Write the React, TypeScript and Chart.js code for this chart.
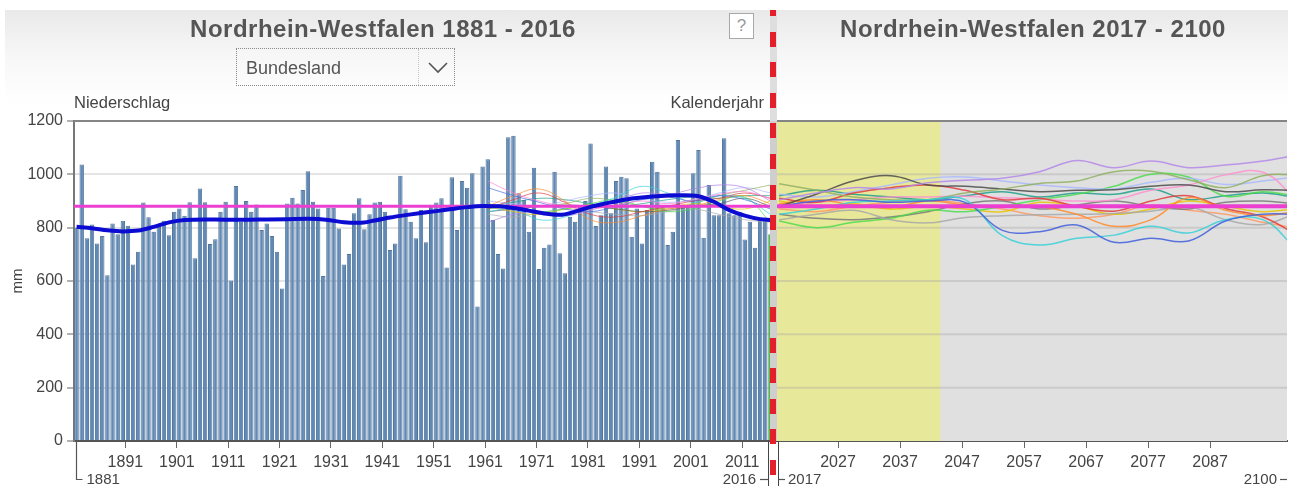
import React, { useEffect, useRef } from 'react';
import { Chart, registerables } from 'chart.js';

Chart.register(...registerables);

const FONT = '"Liberation Sans", Arial, Helvetica, sans-serif';

// ---------- observed data 1881-2016 ----------
const firstYear = 1881;
const lastYear = 2016;
const precipitation = [
  800, 1037, 760, 812, 741, 769, 622, 816, 775, 826,
  807, 662, 710, 894, 839, 785, 810, 826, 772, 860,
  872, 845, 895, 685, 947, 895, 739, 757, 860, 897,
  602, 956, 822, 900, 860, 887, 791, 816, 769, 710,
  572, 891, 912, 891, 941, 1012, 897, 872, 619, 875,
  875, 797, 662, 701, 854, 910, 794, 850, 894, 897,
  860, 716, 741, 995, 869, 822, 760, 866, 745, 885,
  894, 910, 651, 989, 791, 975, 950, 1004, 504, 1029,
  1057, 829, 701, 647, 1139, 1145, 929, 904, 785, 1025,
  645, 725, 737, 1010, 704, 629, 841, 822, 885, 900,
  1116, 806, 847, 1029, 854, 975, 991, 985, 766, 872,
  741, 866, 1047, 1010, 885, 735, 785, 1129, 885, 885,
  1004, 1091, 762, 960, 847, 847, 1135, 854, 847, 860,
  756, 822, 725, 829, 832, 775,
];
const years = precipitation.map((_, i) => firstYear + i);

// smoothed trend (blue)
const smoothYears = [1881, 1884, 1887, 1890, 1893, 1896, 1899, 1902, 1906, 1910, 1914, 1918, 1922, 1926, 1930, 1933, 1936, 1939, 1942, 1945, 1948, 1951, 1954, 1957, 1960, 1963, 1966, 1969, 1972, 1975, 1978, 1981, 1984, 1987, 1990, 1993, 1996, 1999, 2002, 2005, 2008, 2011, 2014, 2016];
const smoothValues = [803, 798, 790, 786, 789, 803, 820, 829, 831, 830, 830, 831, 832, 833, 829, 820, 818, 827, 838, 847, 855, 862, 870, 877, 881, 880, 874, 864, 853, 848, 860, 878, 891, 903, 911, 917, 921, 922, 918, 897, 866, 845, 832, 829];

// reference mean (magenta)
const referenceMean = 880;

// ---------- model runs ----------
const hindYears = [1961, 1966, 1971, 1976, 1981, 1986, 1991, 1996, 2001, 2006, 2011, 2016];
const hindPink = [975, 930, 900, 880, 870, 885, 900, 890, 905, 925, 935, 910];
const hindBlue = [950, 920, 895, 870, 860, 880, 905, 915, 900, 920, 905, 870];
const hindPurple = [820, 850, 860, 845, 865, 900, 930, 925, 945, 960, 950, 900];
const hindOrange = [880, 920, 945, 900, 830, 820, 845, 870, 880, 905, 920, 890];
const hindRed = [870, 905, 930, 895, 850, 840, 860, 880, 900, 910, 930, 910];
const hindCyan = [860, 870, 830, 840, 880, 915, 955, 930, 895, 920, 910, 850];
const hindLime = [870, 880, 860, 870, 890, 905, 880, 860, 870, 900, 915, 820];
const hindOlive = [890, 875, 880, 890, 910, 900, 880, 870, 890, 920, 940, 960];
const hindDark = [860, 870, 880, 885, 880, 870, 860, 865, 880, 890, 910, 880];
const hindYellow = [880, 860, 850, 870, 885, 870, 860, 875, 890, 880, 870, 900];
const hindLavender = [900, 890, 880, 900, 920, 930, 910, 895, 905, 930, 950, 930];
const hindGray = [850, 840, 855, 870, 860, 850, 845, 860, 870, 850, 830, 820];
const hindTeal = [880, 895, 910, 905, 890, 880, 890, 905, 915, 910, 920, 920];

const projYears = [2017, 2023, 2029, 2035, 2041, 2047, 2053, 2059, 2065, 2071, 2077, 2083, 2089, 2095, 2100];
const projPurple = [905, 930, 950, 945, 968, 978, 985, 1010, 1052, 1025, 1050, 1025, 1035, 1050, 1070];
const projBlue = [880, 900, 905, 895, 900, 895, 790, 785, 810, 745, 760, 750, 825, 850, 850];
const projCyan = [850, 870, 895, 900, 905, 905, 770, 735, 760, 772, 805, 780, 830, 830, 730];
const projOlive = [965, 940, 915, 905, 905, 930, 945, 966, 975, 1010, 1012, 980, 950, 995, 1000];
const projDark = [880, 925, 975, 995, 960, 955, 945, 935, 940, 942, 955, 960, 935, 942, 940];
const projOrange = [890, 905, 885, 875, 900, 885, 880, 878, 850, 805, 830, 912, 865, 845, 860];
const projRed = [910, 895, 930, 950, 960, 940, 905, 910, 880, 862, 900, 920, 872, 840, 780];
const projPink = [885, 895, 905, 915, 915, 918, 912, 908, 900, 905, 940, 960, 998, 1008, 915];
const projLavender = [925, 915, 935, 960, 985, 990, 975, 960, 950, 945, 970, 985, 962, 975, 990];
const projGray = [830, 850, 865, 830, 818, 838, 845, 848, 850, 853, 862, 878, 830, 812, 850];
const projLime = [825, 800, 820, 835, 865, 860, 880, 905, 925, 955, 1000, 990, 918, 935, 920];
const projYellow = [900, 880, 890, 870, 880, 870, 860, 895, 880, 850, 870, 900, 880, 860, 870];
const projTeal = [920, 940, 925, 915, 905, 920, 935, 915, 930, 925, 945, 905, 920, 930, 915];
const projDim = [850, 835, 830, 840, 860, 890, 900, 870, 885, 900, 880, 870, 895, 900, 890];
const projSalmon = [870, 860, 880, 895, 905, 890, 870, 845, 835, 850, 885, 865, 850, 820, 800];

const hindModels = [
  { values: hindPink, color: '#ff7fd0' },
  { values: hindBlue, color: '#4a6be0' },
  { values: hindPurple, color: '#b07fe6' },
  { values: hindOrange, color: '#ff8a2a' },
  { values: hindRed, color: '#e23b3b' },
  { values: hindCyan, color: '#35cfd6' },
  { values: hindLime, color: '#4bdb4b' },
  { values: hindOlive, color: '#8fb060' },
  { values: hindDark, color: '#555555' },
  { values: hindYellow, color: '#e8c400' },
  { values: hindLavender, color: '#a9b8ff' },
  { values: hindGray, color: '#aaaaaa' },
  { values: hindTeal, color: '#1f9e8a' },
];

const projModels = [
  { values: projPurple, color: '#b488e8' },
  { values: projBlue, color: '#3f5fdc' },
  { values: projCyan, color: '#38d0d8' },
  { values: projOlive, color: '#8fb060' },
  { values: projDark, color: '#4a4a4a' },
  { values: projOrange, color: '#ff8a2a' },
  { values: projRed, color: '#e23b3b' },
  { values: projPink, color: '#ff8fd0' },
  { values: projLavender, color: '#a9b8ff' },
  { values: projGray, color: '#a8a8a8' },
  { values: projLime, color: '#4bdb4b' },
  { values: projYellow, color: '#e8c400' },
  { values: projTeal, color: '#1f9e8a' },
  { values: projDim, color: '#777777' },
  { values: projSalmon, color: '#ff9966' },
];

const yTicks = [0, 200, 400, 600, 800, 1000, 1200];
const leftTickYears = [1891, 1901, 1911, 1921, 1931, 1941, 1951, 1961, 1971, 1981, 1991, 2001, 2011];
const rightTickYears = [2027, 2037, 2047, 2057, 2067, 2077, 2087];
const projFirst = 2017;
const projLast = 2100;
const yellowEndYear = 2043;

const leftDecor = {
  id: 'leftDecor',
  afterDraw(chart: any) {
    const { ctx, chartArea: a, scales } = chart;
    const x = scales.x;
    ctx.save();
    ctx.strokeStyle = '#858585';
    ctx.lineWidth = 2;
    ctx.beginPath();
    ctx.moveTo(a.left, a.top);
    ctx.lineTo(a.right, a.top);
    ctx.stroke();
    const x0 = Math.round(x.getPixelForValue(firstYear - 0.5)) + 2.5;
    ctx.strokeStyle = '#555';
    ctx.lineWidth = 1.2;
    ctx.beginPath();
    ctx.moveTo(x0, a.bottom);
    ctx.lineTo(x0, 479.5);
    ctx.lineTo(x0 + 6, 479.5);
    ctx.stroke();
    ctx.fillStyle = '#444';
    ctx.font = '15px ' + FONT;
    ctx.textBaseline = 'middle';
    ctx.textAlign = 'left';
    ctx.fillText(String(firstYear), x0 + 10, 480);
    const xe = x.getPixelForValue(lastYear + 0.5);
    ctx.textAlign = 'right';
    ctx.fillText(String(lastYear), xe - 17, 480);
    ctx.beginPath();
    ctx.moveTo(xe - 13, 479.5);
    ctx.lineTo(xe - 5, 479.5);
    ctx.stroke();
    ctx.restore();
  },
};

const rightDecor = {
  id: 'rightDecor',
  beforeDatasetsDraw(chart: any) {
    const { ctx, chartArea: a, scales } = chart;
    const xy = scales.x.getPixelForValue(yellowEndYear);
    ctx.save();
    ctx.fillStyle = '#e0e0e0';
    ctx.fillRect(a.left, a.top, a.right - a.left, a.bottom - a.top);
    ctx.fillStyle = '#e8e89b';
    ctx.fillRect(a.left, a.top, xy - a.left, a.bottom - a.top);
    ctx.strokeStyle = 'rgba(160,160,160,0.35)';
    ctx.lineWidth = 2;
    for (const t of yTicks) {
      if (t === 0 || t === 1200) continue;
      const py = scales.y.getPixelForValue(t);
      ctx.beginPath();
      ctx.moveTo(a.left, py);
      ctx.lineTo(a.right, py);
      ctx.stroke();
    }
    ctx.restore();
  },
  afterDraw(chart: any) {
    const { ctx, chartArea: a } = chart;
    ctx.save();
    ctx.strokeStyle = '#858585';
    ctx.lineWidth = 2;
    ctx.beginPath();
    ctx.moveTo(a.left, a.top);
    ctx.lineTo(a.right, a.top);
    ctx.stroke();
    ctx.fillStyle = '#444';
    ctx.strokeStyle = '#555';
    ctx.lineWidth = 1.2;
    ctx.font = '15px ' + FONT;
    ctx.textBaseline = 'middle';
    ctx.beginPath();
    ctx.moveTo(a.left + 1, 479.5);
    ctx.lineTo(a.left + 9, 479.5);
    ctx.stroke();
    ctx.textAlign = 'left';
    ctx.fillText(String(projFirst), a.left + 12, 480);
    ctx.beginPath();
    ctx.moveTo(a.right - 7, 479.5);
    ctx.lineTo(a.right, 479.5);
    ctx.stroke();
    ctx.textAlign = 'right';
    ctx.fillText(String(projLast), a.right - 10, 480);
    ctx.restore();
  },
};

function App() {
  const leftRef = useRef<HTMLCanvasElement>(null);
  const rightRef = useRef<HTMLCanvasElement>(null);

  useEffect(() => {
    Chart.defaults.font.family = FONT;

    const left = new Chart(leftRef.current as HTMLCanvasElement, {
      type: 'bar',
      data: {
        datasets: [
          ...hindModels.map((m) => ({
            type: 'line' as const,
            data: hindYears.map((yr, i) => ({ x: yr, y: m.values[i] })),
            borderColor: m.color + 'b0',
            borderWidth: 1,
            pointRadius: 0,
            tension: 0.4,
            order: 2,
          })),
          {
            type: 'line' as const,
            data: [
              { x: firstYear - 0.5, y: referenceMean },
              { x: lastYear + 0.5, y: referenceMean },
            ],
            borderColor: '#ec3fd2',
            borderWidth: 3,
            pointRadius: 0,
            order: 1,
          },
          {
            type: 'line' as const,
            data: smoothYears.map((yr, i) => ({ x: yr, y: smoothValues[i] })),
            borderColor: '#0b0bd2',
            borderWidth: 4,
            pointRadius: 0,
            cubicInterpolationMode: 'monotone' as const,
            order: 0,
          },
          {
            type: 'bar' as const,
            data: years.map((yr, i) => ({ x: yr, y: precipitation[i] })),
            backgroundColor: years.map((yr) => (yr === lastYear ? '#3aa53a' : '#6189b5')),
            borderColor: years.map((yr) => (yr === lastYear ? '#3aa53a' : '#52769c')),
            borderWidth: 1,
            barPercentage: 0.86,
            categoryPercentage: 1,
            order: 3,
          },
        ],
      } as any,
      options: {
        responsive: false,
        animation: false,
        events: [],
        layout: { padding: { top: 121, left: 0, right: 0, bottom: 0 } },
        plugins: { legend: { display: false }, tooltip: { enabled: false } },
        scales: {
          x: {
            type: 'linear',
            min: firstYear - 0.5,
            max: lastYear + 0.5,
            offset: false,
            afterBuildTicks: (scale: any) => {
              scale.ticks = leftTickYears.map((v) => ({ value: v - 0.5 }));
            },
            afterFit: (scale: any) => {
              scale.height = 45;
            },
            ticks: {
              autoSkip: false,
              maxRotation: 0,
              color: '#444',
              font: { size: 16 },
              padding: 5,
              callback: (v: any) => String(Math.round(Number(v) + 0.5)),
            },
            grid: { drawOnChartArea: false, offset: false, color: '#666', tickLength: 7 },
            border: { color: '#555', width: 2 },
          },
          y: {
            min: 0,
            max: 1200,
            afterBuildTicks: (scale: any) => {
              scale.ticks = yTicks.map((v) => ({ value: v }));
            },
            afterFit: (scale: any) => {
              scale.width = 74;
            },
            ticks: { color: '#444', font: { size: 16 }, padding: 4, callback: (v: any) => String(v) },
            grid: { color: '#e4e4e4', lineWidth: 2, tickColor: '#666', tickLength: 7, tickWidth: 1 },
            border: { color: '#777', width: 2 },
            title: { display: true, text: 'mm', color: '#444', font: { size: 15 }, padding: { top: 9, bottom: 0 } },
          },
        },
      } as any,
      plugins: [leftDecor],
    });

    const right = new Chart(rightRef.current as HTMLCanvasElement, {
      type: 'line',
      data: {
        datasets: [
          ...projModels.map((m) => ({
            data: projYears.map((yr, i) => ({ x: yr, y: m.values[i] })),
            borderColor: m.color + 'd8',
            borderWidth: 1.5,
            pointRadius: 0,
            tension: 0.4,
            order: 1,
          })),
          {
            data: [
              { x: projFirst - 0.5, y: referenceMean },
              { x: projLast, y: referenceMean },
            ],
            borderColor: '#ec3fd2',
            borderWidth: 4,
            pointRadius: 0,
            order: 0,
          },
        ],
      } as any,
      options: {
        responsive: false,
        animation: false,
        events: [],
        layout: { padding: { top: 121, left: 0, right: 6, bottom: 0 } },
        plugins: { legend: { display: false }, tooltip: { enabled: false } },
        scales: {
          x: {
            type: 'linear',
            min: projFirst - 0.5,
            max: 2098.9,
            afterBuildTicks: (scale: any) => {
              scale.ticks = rightTickYears.map((v) => ({ value: v - 0.5 }));
            },
            afterFit: (scale: any) => {
              scale.height = 45;
            },
            ticks: {
              autoSkip: false,
              maxRotation: 0,
              color: '#444',
              font: { size: 16 },
              padding: 5,
              callback: (v: any) => String(Math.round(Number(v) + 0.5)),
            },
            grid: { drawOnChartArea: false, color: '#666', tickLength: 7 },
            border: { color: '#555', width: 2 },
          },
          y: {
            min: 0,
            max: 1200,
            afterBuildTicks: (scale: any) => {
              scale.ticks = yTicks.map((v) => ({ value: v }));
            },
            afterFit: (scale: any) => {
              scale.width = 0;
            },
            ticks: { display: false },
            grid: { display: false },
            border: { display: false },
          },
        },
      } as any,
      plugins: [rightDecor],
    });

    return () => {
      left.destroy();
      right.destroy();
    };
  }, []);

  const textBase: React.CSSProperties = { position: 'absolute', fontFamily: FONT, whiteSpace: 'nowrap' };

  return (
    <div style={{ position: 'absolute', left: 0, top: 0, width: 1293, height: 486, overflow: 'hidden', background: '#fff' }}>
      <div style={{ position: 'absolute', left: 5, top: 10, width: 1283, height: 95, background: 'linear-gradient(to bottom, #e9e9e9 0%, #f6f6f6 45%, #fefefe 90%, #ffffff 100%)' }} />
      <canvas ref={leftRef} width={773} height={486} style={{ position: 'absolute', left: 0, top: 0, width: 773, height: 486 }} />
      <canvas ref={rightRef} width={517} height={486} style={{ position: 'absolute', left: 776, top: 0, width: 517, height: 486 }} />

      <div style={{ ...textBase, left: 133, top: 14, width: 500, textAlign: 'center', fontSize: 24, lineHeight: '30px', fontWeight: 'bold', color: '#555', letterSpacing: 0.5 }}>
        Nordrhein-Westfalen 1881 - 2016
      </div>
      <div style={{ ...textBase, left: 783, top: 14, width: 500, textAlign: 'center', fontSize: 24, lineHeight: '30px', fontWeight: 'bold', color: '#555', letterSpacing: 0.5 }}>
        Nordrhein-Westfalen 2017 - 2100
      </div>

      <div style={{ position: 'absolute', left: 236, top: 48, width: 217, height: 36, border: '1px dotted #8a8a8a' }} />
      <div style={{ position: 'absolute', left: 418, top: 49, width: 0, height: 36, borderLeft: '1px dotted #c4c4c4' }} />
      <div style={{ ...textBase, left: 246, top: 56, fontSize: 18, lineHeight: '24px', color: '#555' }}>Bundesland</div>
      <svg style={{ position: 'absolute', left: 426, top: 58 }} width={24} height={18}>
        <polyline points="3,5 12,14 21,5" fill="none" stroke="#555" strokeWidth={1.6} />
      </svg>

      <div style={{ ...textBase, left: 729, top: 13, width: 23, height: 24, border: '1px solid #a8a8a8', background: '#fff', color: '#999', fontSize: 17, lineHeight: '24px', textAlign: 'center' }}>?</div>

      <div style={{ ...textBase, left: 74, top: 92, fontSize: 16.5, lineHeight: '20px', color: '#444' }}>Niederschlag</div>
      <div style={{ ...textBase, left: 564, top: 92, width: 200, textAlign: 'right', fontSize: 16.5, lineHeight: '20px', color: '#444' }}>Kalenderjahr</div>

      <div style={{ position: 'absolute', left: 770, top: 10, width: 7, height: 111, background: '#dedede' }} />
      <div style={{ position: 'absolute', left: 770, top: 121, width: 7, height: 320, background: '#cfcfcf' }} />
      <div style={{ position: 'absolute', left: 768, top: 441, width: 9, height: 45, border: '1px solid #444', borderBottom: 'none', background: '#fff' }} />
      <div
        style={{
          position: 'absolute',
          left: 770,
          top: 10,
          width: 6,
          height: 476,
          background: 'repeating-linear-gradient(to bottom, #e3202a 0px, #e3202a 6px, transparent 6px, transparent 21.6px, #e3202a 21.6px, #e3202a 30.6px)',
        }}
      />
    </div>
  );
}

export default App;
